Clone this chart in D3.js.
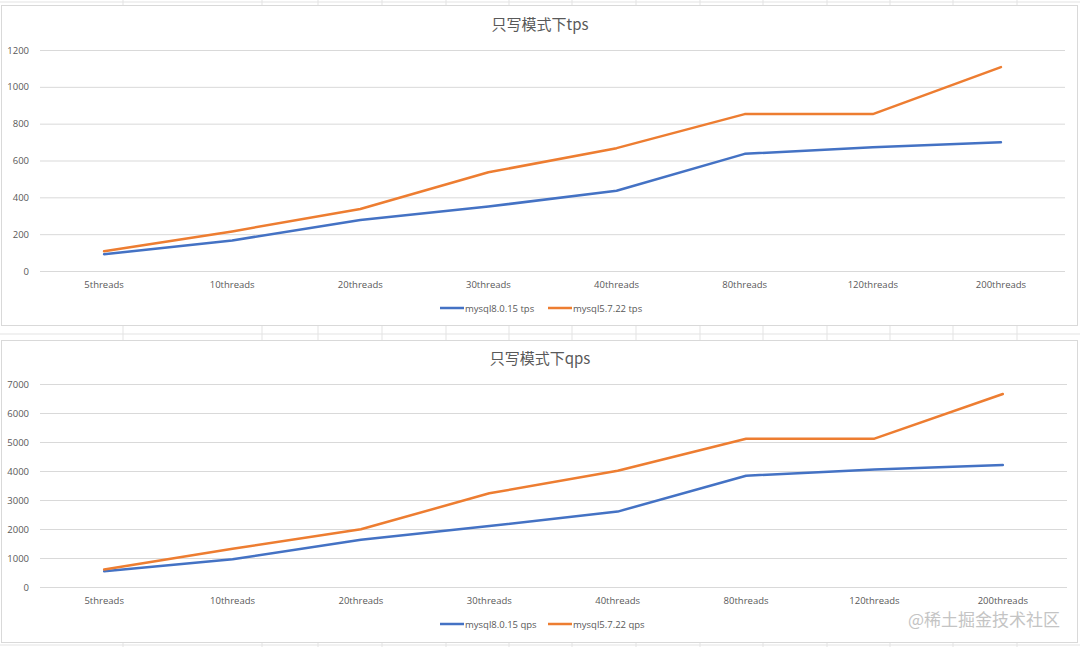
<!DOCTYPE html>
<html>
<head>
<meta charset="utf-8">
<script src="https://cdn.jsdelivr.net/npm/d3@7"></script>
<style>
  body { margin: 0; background: #fff; }
  svg { display: block; }
  .tick text { font-family: "Open Sans", "Noto Sans", sans-serif; }
</style>
</head>
<body>
<script>
var width = 1080,
    height = 647;

// data
var categories = ["5threads", "10threads", "20threads", "30threads", "40threads", "80threads", "120threads", "200threads"]
var tps80 = [91, 166, 277, 350, 436, 636, 672, 699]
var tps57 = [107, 215, 337, 536, 667, 852, 852, 1107]
var qps80 = [541, 955, 1630, 2100, 2600, 3838, 4050, 4207]
var qps57 = [605, 1320, 1990, 3231, 4010, 5114, 5114, 6655]
var tpsTicks = [0, 200, 400, 600, 800, 1000, 1200]
var qpsTicks = [0, 1000, 2000, 3000, 4000, 5000, 6000, 7000]
var seriesColors = ["#4472C4", "#ED7D31"]

var svg = d3.select("body").append("svg")
    .attr("width", width)
    .attr("height", height);

// faint spreadsheet grid behind the two charts
var sheetCols = [123, 262, 318, 382, 446, 509, 572, 636, 700, 763, 827, 890, 953, 1017]
var sheet = svg.append("g");
sheet.selectAll("line.col")
    .data(sheetCols)
    .enter().append("line")
    .attr("x1", d => d).attr("x2", d => d)
    .attr("y1", 0).attr("y2", height)
    .attr("stroke", "#e3e3e3");
[2, 334, 645].forEach(function (y) {
    sheet.append("line")
        .attr("x1", 0).attr("x2", width)
        .attr("y1", y).attr("y2", y)
        .attr("stroke", "#e3e3e3");
})

drawChart({
    top: 5, bottom: 325, plotTop: 50, plotBottom: 271, plotRight: 1065,
    title: "只写模式下tps", titleY: 30, labelY: 288, legendY: 308,
    ticks: tpsTicks, series: [tps80, tps57],
    names: ["mysql8.0.15 tps", "mysql5.7.22 tps"]
})

drawChart({
    top: 340, bottom: 642, plotTop: 384, plotBottom: 587, plotRight: 1067,
    title: "只写模式下qps", titleY: 364, labelY: 604, legendY: 624,
    ticks: qpsTicks, series: [qps80, qps57],
    names: ["mysql8.0.15 qps", "mysql5.7.22 qps"]
})

// watermark
svg.append("text")
    .attr("x", 1060)
    .attr("y", 626)
    .attr("text-anchor", "end")
    .attr("fill", "#c4c4c4")
    .style("font-family", "'Noto Sans CJK SC', sans-serif")
    .style("font-size", "17px")
    .text("@稀土掘金技术社区");

function drawChart(c) {
    var g = svg.append("g");

    g.append("rect")                      // chart area box
        .attr("x", 1.5)
        .attr("y", c.top + 0.5)
        .attr("width", 1076)
        .attr("height", c.bottom - c.top)
        .attr("fill", "#fff")
        .attr("stroke", "#d9d9d9");

    var xScale = d3.scaleBand()
        .domain(categories)
        .range([40, c.plotRight]);

    var yScale = d3.scaleLinear()
        .domain([0, c.ticks[c.ticks.length - 1]])
        .range([c.plotBottom, c.plotTop]);

    var yAxis = g.append("g")
        .attr("transform", "translate(40,0)")
        .call(d3.axisLeft(yScale)
            .tickValues(c.ticks)
            .tickSizeInner(-(c.plotRight - 40))
            .tickSizeOuter(0)
            .tickPadding(11)
            .tickFormat(d3.format("d")));
    yAxis.select(".domain").remove();
    yAxis.selectAll(".tick line").attr("stroke", "#d9d9d9");
    yAxis.selectAll(".tick text")
        .attr("fill", "#595959")
        .style("font-size", "9.5px");

    g.selectAll("text.cat")
        .data(categories)
        .enter().append("text")
        .attr("class", "cat")
        .attr("x", d => xScale(d) + xScale.bandwidth() / 2)
        .attr("y", c.labelY)
        .attr("text-anchor", "middle")
        .attr("fill", "#595959")
        .style("font-family", "'Open Sans', 'Noto Sans', sans-serif")
        .style("font-size", "9.5px")
        .text(d => d);

    var line = d3.line()
        .x(function (d, i) { return xScale(categories[i]) + xScale.bandwidth() / 2 })
        .y(function (d) { return yScale(d) });

    c.series.forEach(function (values, i) {
        g.append("path")
            .datum(values)
            .attr("fill", "none")
            .attr("stroke", seriesColors[i])
            .attr("stroke-width", 2.5)
            .attr("stroke-linejoin", "round")
            .attr("stroke-linecap", "round")
            .attr("d", line);
    })

    g.append("text")
        .attr("x", 540)
        .attr("y", c.titleY)
        .attr("text-anchor", "middle")
        .attr("fill", "#595959")
        .style("font-family", "'Noto Sans CJK SC', sans-serif")
        .style("font-size", "15px")
        .text(c.title);

    // legend
    var legendX = [440, 548];
    c.names.forEach(function (name, i) {
        g.append("line")
            .attr("x1", legendX[i]).attr("x2", legendX[i] + 24)
            .attr("y1", c.legendY).attr("y2", c.legendY)
            .attr("stroke", seriesColors[i])
            .attr("stroke-width", 2.5);
        g.append("text")
            .attr("x", legendX[i] + 25)
            .attr("y", c.legendY + 3.5)
            .attr("fill", "#595959")
            .style("font-family", "'Open Sans', 'Noto Sans', sans-serif")
            .style("font-size", "9.5px")
            .text(name);
    })
}
</script>
</body>
</html>
